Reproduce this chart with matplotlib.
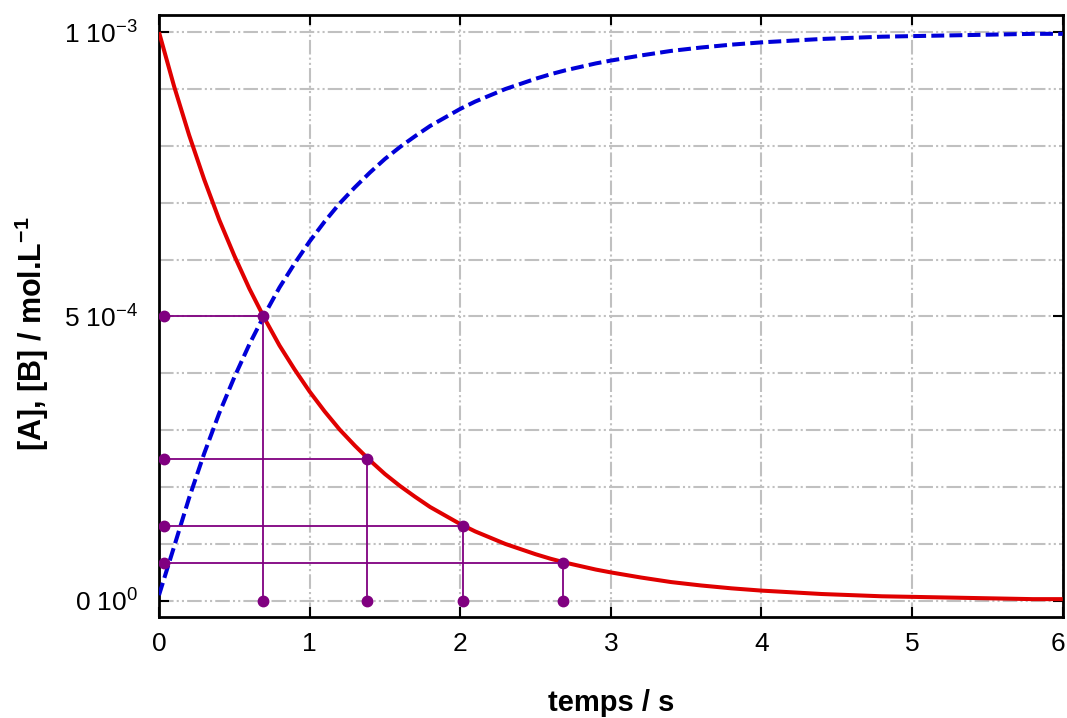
import matplotlib
matplotlib.use("Agg")
import matplotlib.pyplot as plt
import matplotlib.transforms as mtransforms
from matplotlib.ticker import FixedLocator, MultipleLocator

# values (concentrations in units of 1e-4 mol/L)
time_s = [0.0, 0.1, 0.2, 0.3, 0.4, 0.5, 0.6, 0.7, 0.8, 0.9, 1.0, 1.1, 1.2, 1.3, 1.4, 1.5,
          1.6, 1.7, 1.8, 1.9, 2.0, 2.1, 2.2, 2.3, 2.4, 2.5, 2.6, 2.7, 2.8, 2.9, 3.0,
          3.2, 3.4, 3.6, 3.8, 4.0, 4.2, 4.4, 4.6, 4.8, 5.0, 5.2, 5.4, 5.6, 5.8, 6.0]
conc_A = [10.0, 9.05, 8.19, 7.41, 6.70, 6.07, 5.49, 4.97, 4.49, 4.07, 3.68, 3.33, 3.01, 2.73, 2.47, 2.23,
          2.02, 1.83, 1.65, 1.50, 1.35, 1.22, 1.11, 1.00, 0.91, 0.82, 0.74, 0.67, 0.61, 0.55, 0.50,
          0.41, 0.33, 0.27, 0.22, 0.18, 0.15, 0.12, 0.10, 0.08, 0.07, 0.06, 0.05, 0.04, 0.03, 0.03]
conc_B = [0.1, 0.95, 1.81, 2.59, 3.30, 3.93, 4.51, 5.03, 5.51, 5.93, 6.32, 6.67, 6.99, 7.27, 7.53, 7.77,
          7.98, 8.17, 8.35, 8.50, 8.65, 8.78, 8.89, 9.00, 9.09, 9.18, 9.26, 9.33, 9.39, 9.45, 9.50,
          9.59, 9.67, 9.73, 9.78, 9.82, 9.85, 9.88, 9.90, 9.92, 9.93, 9.94, 9.95, 9.96, 9.97, 9.97]

# half-life construction points
half_t = [0.69, 1.38, 2.02, 2.68]
half_c = [5.0, 2.5, 1.32, 0.67]

x_ticks = [0, 1, 2, 3, 4, 5, 6]
y_ticks = [0.0, 5.0, 10.0]
y_tick_labels = [r"0 10$^{0}$", r"5 10$^{-4}$", r"1 10$^{-3}$"]

SCALE = 1e-4
purple = "#800080"
grid_col = "#c0c0c0"

plt.rcParams["font.family"] = ["Liberation Sans", "DejaVu Sans"]
plt.rcParams["mathtext.fontset"] = "custom"
plt.rcParams["mathtext.rm"] = "Liberation Sans"
plt.rcParams["mathtext.it"] = "Liberation Sans:italic"
plt.rcParams["mathtext.bf"] = "Liberation Sans:bold"

fig = plt.figure(figsize=(10.67, 7.18), dpi=100)
ax = fig.add_axes([0.149, 0.141, 0.847, 0.838])

A = [c * SCALE for c in conc_A]
B = [c * SCALE for c in conc_B]

ax.plot(time_s, B, color="#0000d8", lw=2.9, dashes=(3.2, 1.3), zorder=3)
ax.plot(time_s, A, color="#e00000", lw=2.9, solid_capstyle="butt", zorder=4)

for t, c in zip(half_t, half_c):
    y = c * SCALE
    ax.plot([0, t], [y, y], color=purple, lw=1.3, zorder=5)
    ax.plot([t, t], [y, 0], color=purple, lw=1.3, zorder=5)
    ax.plot([0.03, t, t], [y, y, 0], ls="none", marker="o", ms=7.5,
            color=purple, zorder=6)

ax.set_xlim(0, 6)
ax.set_ylim(-0.28 * SCALE, 10.30 * SCALE)

ax.xaxis.set_major_locator(FixedLocator(x_ticks))
ax.set_xticklabels([str(v) for v in x_ticks])
ax.yaxis.set_major_locator(FixedLocator([v * SCALE for v in y_ticks]))
ax.set_yticklabels(y_tick_labels)
ax.yaxis.set_minor_locator(MultipleLocator(1 * SCALE))

ax.tick_params(which="major", direction="in", length=7, width=1.5,
               top=True, right=True, labelsize=19, colors="black")
ax.tick_params(which="minor", length=0)
ax.tick_params(axis="x", pad=11)
ax.tick_params(axis="y", pad=15)

# last x label sits on the figure edge; nudge it in a little
last = ax.get_xticklabels()[-1]
last.set_transform(last.get_transform() +
                   mtransforms.ScaledTranslation(-0.05, 0, fig.dpi_scale_trans))

grid_dash = (0, (7, 1.5, 1, 1.5, 1, 1.5))
ax.grid(True, which="both", color=grid_col, lw=1.5, linestyle=grid_dash, zorder=0)
ax.set_axisbelow(True)

for sp in ax.spines.values():
    sp.set_linewidth(2)
    sp.set_color("black")

ax.set_xlabel("temps / s", fontsize=21, fontweight="bold", labelpad=24)
ax.set_ylabel(r"[A], [B] / mol.L$^{\mathbf{-1}}$", fontsize=22, fontweight="bold")
ax.yaxis.set_label_coords(-0.12, 0.47)

fig.savefig("out.png", dpi=100)
